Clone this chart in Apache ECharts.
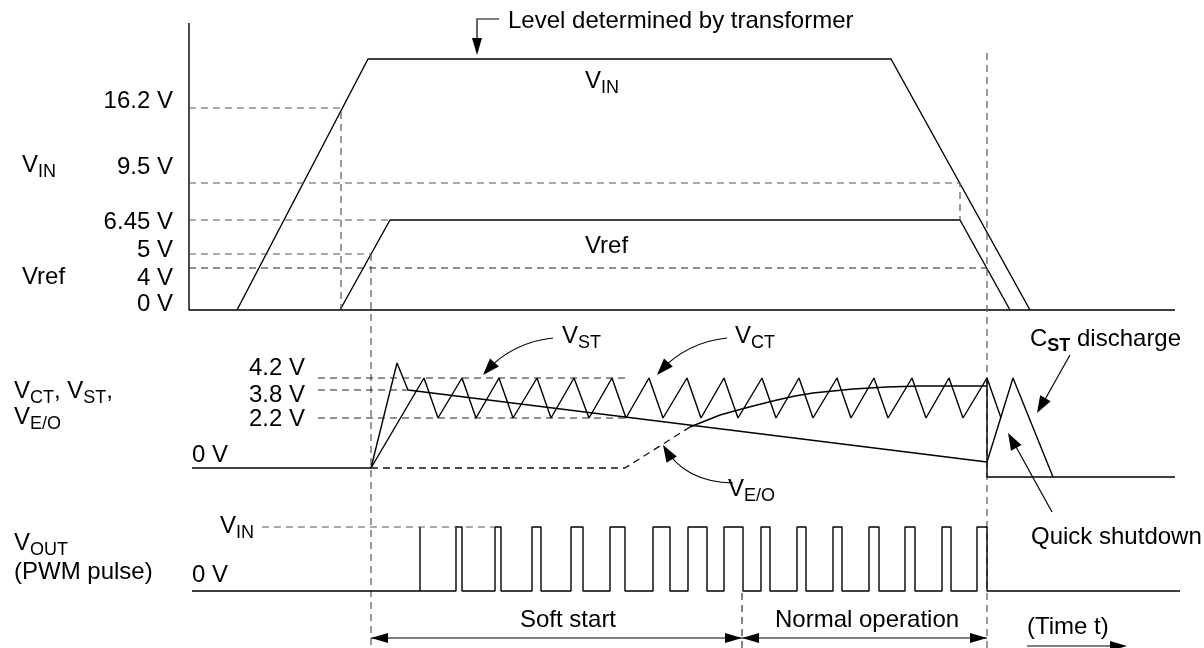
<!DOCTYPE html>
<html><head><meta charset="utf-8">
<script src="https://cdn.jsdelivr.net/npm/echarts/dist/echarts.min.js"></script>
<style>html,body{margin:0;padding:0;background:#fff}#c{width:1204px;height:648px}</style>
</head><body><div id="c"></div>
<script>
// Timing diagram. x = time (diagram units), y = drawn signal level (diagram units, top = 0).
// ---- top panel: VIN and Vref ----
const axisTop = [[189,23],[189,310],[1175,310]];
const vin = [[237,310],[368,59],[891,59],[1030,310]];
const vref = [[340,310],[390,220],[960,220],[1010,310]];
const dash16_2 = [[189,108],[341,108],[341,310]];
const dash9_5 = [[189,183],[960,183],[960,220]];
const dash6_45 = [[189,220],[390,220]];
const dash5 = [[189,254],[371,254]];
const dash4 = [[189,268],[987,268]];
const markerT1 = [[371,254],[371,648]];
const markerT2 = [[987,53],[987,648]];
const markerT3 = [[742,593],[742,648]];
// ---- middle panel: VCT, VST, VE/O ----
const midZero = [[192,468],[371,468]];
const ctPeaks = [424,462,499,537,574,612,649,687,724,762,799,837,874,912,949,987];
const ctValleys = [438,476,513,551,589,626,663,701,738,776,813,851,888,926,963,1001];
const ctHigh = 378, ctLow = 418, ctStart = [371,468];
const vst = [[371,468],[397,363],[408,390],[987,462],[1013,378],[1053,477]];
const veoDashed = [[371,468],[625,468],[690,427]];
const veoSolid = [[690,427],[705,421],[720,415],[738,410],[757,405],[777,400],[795,396],[813,393],[833,391],[853,389],[887,387],[920,386],[953,386],[987,386]];
const shutdown = [[987,378],[987,477],[1175,477]];
const dash4_2 = [[318,378],[625,378]];
const dash3_8 = [[318,390],[408,390]];
const dash2_2 = [[318,418],[626,418]];
// ---- bottom panel: VOUT PWM ----
const pwmLow = 591, pwmHigh = 527;
const pulseRise = [420,456,495,532,571,610,653,688,724,761,797,833,869,905,942,977];
const pulseFall = [420,462,501,541,583,625,670,707,743,770,806,842,879,915,951,987];
const pwmStart = 192, pwmEnd = 1180;
const dashVin = [[262,527],[495,527]];

// build derived series data
const vct = [ctStart];
ctPeaks.forEach((p,i)=>{ vct.push([p,ctHigh]); if (ctValleys[i]!==undefined) vct.push([ctValleys[i],ctLow]); });
const vout = [[pwmStart,pwmLow]];
pulseRise.forEach((r,i)=>{ const f=pulseFall[i]; vout.push([r,pwmLow],[r,pwmHigh],[f,pwmHigh],[f,pwmLow]); });
vout.push([pwmEnd,pwmLow]);

const FONT = '"Liberation Sans", Arial, Helvetica, sans-serif';
function ln(data, dashed, color, width){
  return {type:'line', data, symbol:'none', showSymbol:false, silent:true, animation:false, clip:false,
    lineStyle:{color: color||'#000', width: width||1.4, type: dashed ? [7,5] : 'solid'}};
}
const series = [
  ln(axisTop), ln(vin), ln(vref),
  ln(dash16_2,true,'#555',1.2), ln(dash9_5,true,'#555',1.2), ln(dash6_45,true,'#555',1.2), ln(dash5,true,'#555',1.2), ln(dash4,true,'#222',1.2),
  ln(markerT1,true,'#555',1.2), ln(markerT2,true,'#555',1.2), ln(markerT3,true,'#333',1.2),
  ln(midZero), ln(vct), ln(vst), ln(veoDashed,true,'#111',1.3), ln(veoSolid), ln(shutdown),
  ln(dash4_2,true,'#222',1.2), ln(dash3_8,true,'#222',1.2), ln(dash2_2,true,'#222',1.2),
  ln(vout), ln(dashVin,true,'#555',1.2)
];

function rt(x, yc, text, align){
  return {type:'text', x, y: yc-12.5, silent:true, z:10, style:{text, align: align||'left', verticalAlign:'top', fill:'#000',
    fontFamily:FONT, fontSize:24, lineHeight:25,
    rich:{ v:{fontFamily:FONT,fontSize:24,lineHeight:25,verticalAlign:'top',fill:'#000'},
           s:{fontFamily:FONT,fontSize:18,padding:[10,0,0,0],verticalAlign:'top',fill:'#000'},
           b:{fontFamily:FONT,fontSize:18,fontWeight:'bold',padding:[10,0,0,0],verticalAlign:'top',fill:'#000'} }}};
}
function head(tx,ty,fx,fy,L,W){
  const dx=tx-fx, dy=ty-fy, d=Math.hypot(dx,dy), ux=dx/d, uy=dy/d;
  const bx=tx-ux*L, by=ty-uy*L;
  return {type:'polygon', silent:true, z:10, shape:{points:[[tx,ty],[bx-uy*W,by+ux*W],[bx+uy*W,by-ux*W]]}, style:{fill:'#000'}};
}
function seg(pts, w){ return {type:'polyline', silent:true, z:10, shape:{points:pts}, style:{stroke:'#000', lineWidth:w||1.2, fill:null}}; }
function curve(x1,y1,cx,cy,x2,y2){ return {type:'bezierCurve', silent:true, z:10, shape:{x1,y1,x2,y2,cpx1:cx,cpy1:cy}, style:{stroke:'#000', lineWidth:1.2, fill:null}}; }

const graphics = [
  rt(173,101,'16.2 V','right'), rt(173,167,'9.5 V','right'), rt(173,222,'6.45 V','right'),
  rt(173,250,'5 V','right'), rt(173,278,'4 V','right'), rt(173,304,'0 V','right'),
  rt(22,166,'{v|V}{s|IN}'), rt(22,277,'Vref'),
  rt(508,21,'Level determined by transformer'),
  rt(585,82,'{v|V}{s|IN}'), rt(585,246,'Vref'),
  rt(305,368,'4.2 V','right'), rt(305,395,'3.8 V','right'), rt(305,419,'2.2 V','right'), rt(192,455,'0 V'),
  rt(14,392,'{v|V}{s|CT}{v|, V}{s|ST}{v|,}'), rt(14,418,'{v|V}{s|E/O}'),
  rt(562,337,'{v|V}{s|ST}'), rt(735,337,'{v|V}{s|CT}'), rt(728,490,'{v|V}{s|E/O}'),
  rt(1030,340,'{v|C}{b|ST}{v| discharge}'), rt(1031,537,'Quick shutdown'),
  rt(14,544,'{v|V}{s|OUT}'), rt(14,572,'(PWM pulse)'), rt(220,527,'{v|V}{s|IN}'), rt(192,575,'0 V'),
  rt(520,620,'Soft start'), rt(775,620,'Normal operation'), rt(1027,627,'(Time t)'),
  // level arrow
  seg([[499,19],[477,19],[477,40]]), head(477,55,477,19,17,5),
  // soft start / normal operation arrows
  seg([[371,638],[987,638]]),
  head(371,638,742,638,17,5), head(742,638,371,638,17,5),
  head(742,638,987,638,17,5), head(987,638,742,638,17,5),
  seg([[1027,646],[1112,646]]), head(1127,646,1027,646,17,5),
  // curved pointers
  curve(553,338,513,342,485,372), head(483,375,513,342,17,6),
  curve(727,338,687,342,659,372), head(657,375,687,342,17,6),
  curve(733,483,685,482,665,448), head(663,445,685,482,17,6),
  // straight pointers
  seg([[1070,355],[1039,410]]), head(1037,413,1070,355,17,6),
  seg([[1052,512],[1010,436]]), head(1008,433,1052,512,17,6)
];

const chart = echarts.init(document.getElementById('c'), null, {renderer:'canvas'});
chart.setOption({
  animation:false, backgroundColor:'#fff',
  grid:{left:0,right:0,top:0,bottom:0},
  xAxis:{type:'value', min:0, max:1204, show:false},
  yAxis:{type:'value', min:0, max:648, inverse:true, show:false},
  series, graphic: graphics
});
</script></body></html>
